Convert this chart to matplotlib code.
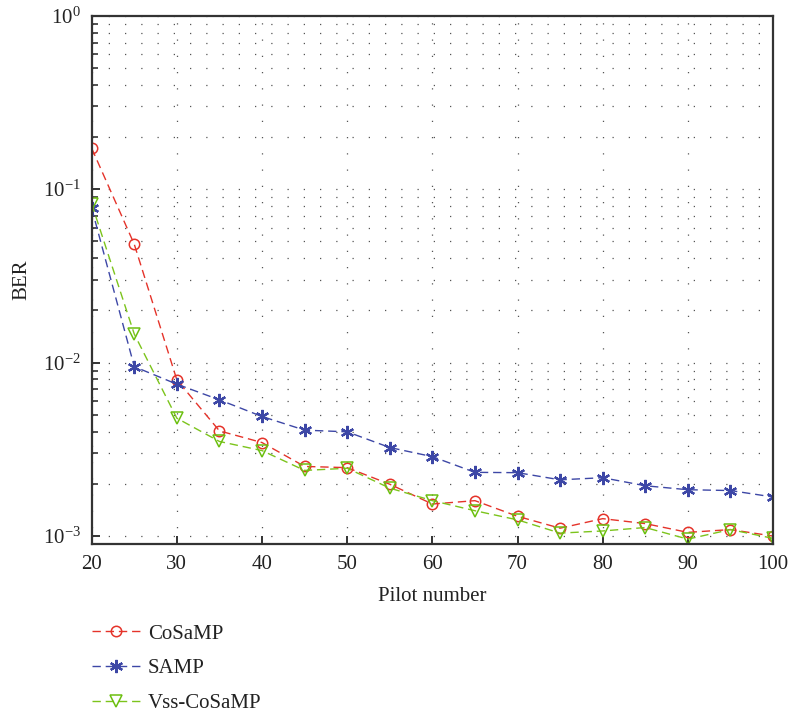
import matplotlib
matplotlib.use("Agg")
import matplotlib.pyplot as plt
from matplotlib.ticker import LogLocator, NullFormatter, FixedLocator

plt.rcParams['font.family'] = ['Liberation Serif', 'DejaVu Serif']
plt.rcParams['mathtext.fontset'] = 'stix'

pilots = [20, 25, 30, 35, 40, 45, 50, 55, 60, 65, 70, 75, 80, 85, 90, 95, 100]
ber_cosamp = [0.172, 0.0481, 0.00795, 0.00404, 0.00346, 0.00252, 0.00248, 0.00199,
              0.00153, 0.00160, 0.00130, 0.00111, 0.00126, 0.00118, 0.00105, 0.00109, 0.00100]
ber_samp = [0.0776, 0.00948, 0.00751, 0.00610, 0.00489, 0.00408, 0.00399, 0.00324,
            0.00287, 0.00233, 0.00232, 0.00211, 0.00217, 0.00195, 0.00185, 0.00183, 0.00168]
ber_vss = [0.0822, 0.0146, 0.00478, 0.00351, 0.00311, 0.00239, 0.00246, 0.00189,
           0.00160, 0.00140, 0.00124, 0.00104, 0.00107, 0.00112, 0.00096, 0.00109, 0.00097]
labels = ['CoSaMP', 'SAMP', 'Vss-CoSaMP']
x_ticks = [20, 30, 40, 50, 60, 70, 80, 90, 100]

fig = plt.figure(figsize=(7.89, 7.13), dpi=100)
ax = fig.add_axes([91.7 / 789, 1 - 544 / 713, (773 - 91.7) / 789, (544 - 15.7) / 713])

spine_col = '#333333'
dash = (0, (6, 3.5))
ax.plot(pilots, ber_cosamp, linestyle=dash, color='#e5332a', lw=1.0,
        marker='o', ms=7.5, mfc='none', mec='#e5332a', mew=1.1, label=labels[0])
ax.plot(pilots, ber_samp, linestyle=dash, color='#3d47a6', lw=1.0,
        marker=(6, 2, 0), ms=9.5, mec='#3d47a6', mew=1.6, label=labels[1])
ax.plot(pilots, ber_vss, linestyle=dash, color='#7cc41c', lw=1.0,
        marker='v', ms=8.5, mfc='none', mec='#6cbf10', mew=1.1, label=labels[2])

ax.set_yscale('log')
ax.set_xlim(20, 100)
ax.set_ylim(9.0e-4, 1.0)
ax.xaxis.set_major_locator(FixedLocator(x_ticks))
ax.yaxis.set_major_locator(LogLocator(base=10, numticks=10))
ax.yaxis.set_minor_locator(LogLocator(base=10, subs=range(2, 10), numticks=10))
ax.yaxis.set_minor_formatter(NullFormatter())

dots = (0, (1, 12))
ax.grid(True, which='major', axis='x', linestyle=dots, color='#555555', lw=0.9)
ax.grid(True, which='both', axis='y', linestyle=dots, color='#555555', lw=0.9)

for s in ax.spines.values():
    s.set_color(spine_col)
    s.set_linewidth(1.6)
ax.tick_params(which='major', direction='in', length=6, width=1.4, color=spine_col,
               labelsize=15, pad=8, labelcolor='#222222')
ax.tick_params(which='minor', direction='in', length=4, width=1.2, color=spine_col)

ax.set_xlabel('Pilot number', fontsize=15, color='#222222', labelpad=9)
ax.set_ylabel('BER', fontsize=15, color='#222222', labelpad=8)

leg = ax.legend(loc='upper left', bbox_to_anchor=(-0.012, -0.136), frameon=False,
                fontsize=15, handlelength=2.3, handletextpad=0.4, labelspacing=0.72,
                borderaxespad=0)
for t in leg.get_texts():
    t.set_color('#222222')

fig.savefig('out.png', dpi=100)
